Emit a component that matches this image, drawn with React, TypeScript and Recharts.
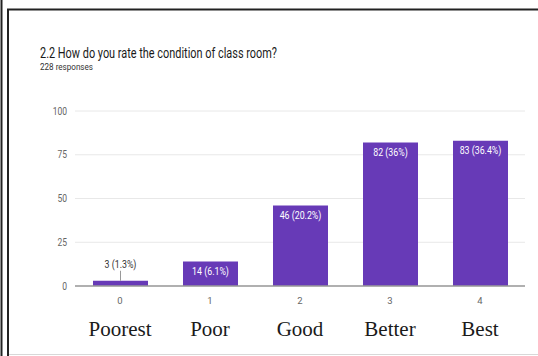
import React from "react";
import { BarChart, Bar, XAxis, YAxis, CartesianGrid, LabelList } from "recharts";

const categories = ["0", "1", "2", "3", "4"];
const names = ["Poorest", "Poor", "Good", "Better", "Best"];
const values = [3, 14, 46, 82, 83];
const labels = ["3 (1.3%)", "14 (6.1%)", "46 (20.2%)", "82 (36%)", "83 (36.4%)"];
const yTicks = [0, 25, 50, 75, 100];
const title = "2.2 How do you rate the condition of class room?";
const subtitle = "228 responses";

const data = categories.map((c, i) => ({ cat: c, name: names[i], value: values[i], label: labels[i] }));

const FONT = "Roboto, 'Noto Sans', sans-serif";

const YTick = (props: any) => {
  const { x, y, payload } = props;
  return (
    <text
      transform={`translate(${x},${y + 3.5}) scale(0.85,1)`}
      textAnchor="end"
      fontSize={10}
      fontFamily={FONT}
      fill="#666"
    >
      {payload.value}
    </text>
  );
};

const XTick = (props: any) => {
  const { x, y, payload } = props;
  return (
    <text x={x} y={y + 18} textAnchor="middle" fontSize={9.5} fontFamily={FONT} fill="#666">
      {payload.value}
    </text>
  );
};

const NameTick = (props: any) => {
  const { x, y, index } = props;
  return (
    <text
      x={x}
      y={y + 26}
      textAnchor="middle"
      fontSize={21}
      fontFamily="'Liberation Serif', 'DejaVu Serif', serif"
      fill="#1a1a1a"
    >
      {names[index]}
    </text>
  );
};

const BarLabel = (props: any) => {
  const { x, y, width, height, index } = props;
  const cx = x + width / 2;
  const text = labels[index];
  if (height < 14) {
    return (
      <g>
        <line x1={cx} x2={cx} y1={y - 10} y2={y} stroke="#999" strokeWidth={1} />
        <text
          transform={`translate(${cx},${y - 13}) scale(0.8,1)`}
          textAnchor="middle"
          fontSize={11}
          fontFamily={FONT}
          fill="#333"
        >
          {text}
        </text>
      </g>
    );
  }
  return (
    <text
      transform={`translate(${cx},${y + 13.5}) scale(0.8,1)`}
      textAnchor="middle"
      fontSize={11}
      fontFamily={FONT}
      fill="#fff"
    >
      {text}
    </text>
  );
};

export default function App() {
  return (
    <div style={{ position: "absolute", left: 0, top: 0, width: 538, height: 356, background: "#fff", overflow: "hidden" }}>
      <BarChart
        width={538}
        height={356}
        data={data}
        margin={{ top: 111, right: 13, bottom: 0, left: 0 }}
      >
        <CartesianGrid vertical={false} stroke="#e8e8e8" />
        <YAxis
          domain={[0, 100]}
          ticks={yTicks}
          width={75}
          axisLine={false}
          tickLine={false}
          tickSize={0}
          tickMargin={8}
          tick={<YTick />}
        />
        <XAxis
          dataKey="cat"
          xAxisId={0}
          height={24}
          axisLine={{ stroke: "#9a9a9a", strokeWidth: 1.5 }}
          tickLine={false}
          tickSize={0}
          tickMargin={0}
          tick={<XTick />}
        />
        <XAxis
          dataKey="name"
          xAxisId="names"
          height={46}
          axisLine={false}
          tickLine={false}
          tickSize={0}
          tickMargin={0}
          tick={<NameTick />}
          interval={0}
        />
        <Bar dataKey="value" xAxisId={0} fill="#673ab7" barSize={55} isAnimationActive={false}>
          <LabelList dataKey="label" content={<BarLabel />} />
        </Bar>
      </BarChart>
      <svg
        width={538}
        height={356}
        style={{ position: "absolute", left: 0, top: 0, pointerEvents: "none" }}
      >
        <line x1={1.5} x2={1.5} y1={0} y2={356} stroke="#222" strokeWidth={2} />
        <line x1={8} x2={8} y1={9} y2={356} stroke="#222" strokeWidth={2} />
        <line x1={7} x2={538} y1={9.5} y2={9.5} stroke="#222" strokeWidth={2} />
        <line x1={9} x2={538} y1={354.5} y2={354.5} stroke="#d8d8d8" strokeWidth={1} />
        <text
          x={40}
          y={58}
          fontSize={14}
          fontFamily={FONT}
          fill="#1a1a1a"
          textLength={237}
          lengthAdjust="spacingAndGlyphs"
        >
          {title}
        </text>
        <text
          x={40}
          y={70}
          fontSize={9}
          fontFamily={FONT}
          fill="#333"
          textLength={53}
          lengthAdjust="spacingAndGlyphs"
        >
          {subtitle}
        </text>
      </svg>
    </div>
  );
}
